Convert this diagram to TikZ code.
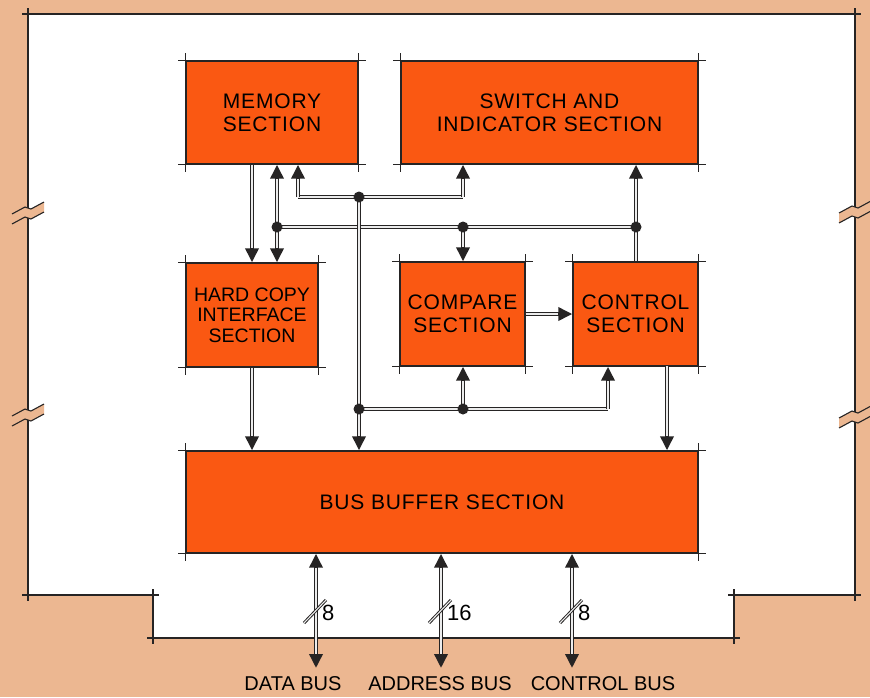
\documentclass[tikz,border=0pt]{standalone}
\usepackage{fontspec}
\setmainfont[LetterSpace=4]{Liberation Sans}
\newfontfamily\tightfont[LetterSpace=0]{Liberation Sans}
\usetikzlibrary{arrows.meta,calc}
\definecolor{tanbg}{RGB}{236,183,145}
\definecolor{boxor}{RGB}{250,88,18}
\definecolor{ink}{RGB}{38,36,36}
\begin{document}
\begin{tikzpicture}[x=1pt,y=-1pt,
  sect/.style={draw=ink, line width=1.4pt, fill=boxor, align=center, inner sep=0pt,
    font=\fontsize{21}{23}\selectfont, text=black},
  bus/.style={draw=ink, line width=3.4pt,
    postaction={draw=gray!15, line width=1.3pt, -}},
  arr/.style={draw=ink, line width=3.4pt, -{Triangle[length=14pt,width=13pt]},
    postaction={draw=gray!15, line width=1.3pt, -, shorten >=14pt}},
  arrtwo/.style={draw=ink, line width=3.4pt, {Triangle[length=14pt,width=13pt]}-{Triangle[length=14pt,width=13pt]},
    postaction={draw=gray!15, line width=1.3pt, -, shorten >=14pt, shorten <=14pt}},
  slash/.style={draw=ink, line width=3pt, postaction={draw=gray!15, line width=1.1pt}},
  jdot/.style={circle, fill=ink, inner sep=0pt, minimum size=11pt},
  framel/.style={draw=ink, line width=1.2pt},
  tick/.style={draw=ink, line width=1.1pt},
  lbl/.style={font=\tightfont\fontsize{20}{22}\selectfont, inner sep=0pt}
]
\useasboundingbox (0,0) rectangle (870,697);
\fill[tanbg] (0,0) rectangle (870,697);

% frame
\fill[white] (28,14) -- (855,14) -- (855,595) -- (734,595) -- (734,638) -- (153,638) -- (153,595) -- (28,595) -- cycle;
\draw[framel] (22,14) -- (861,14);
\draw[framel, line width=1.8pt] (28,8) -- (28,601);
\draw[framel, line width=1.8pt] (855,8) -- (855,601);
\draw[framel] (22,595) -- (159,595);
\draw[framel] (153,589) -- (153,644);
\draw[framel] (147,638) -- (740,638);
\draw[framel] (734,589) -- (734,644);
\draw[framel] (728,595) -- (861,595);

% break marks
\foreach \bx/\by in {28/208, 28/410, 855/207, 855/412}{
  \fill[tanbg] (\bx-16,\by+6) -- (\bx-3,\by-1) -- (\bx+3,\by+1) -- (\bx+16,\by-6)
     -- (\bx+16,\by+4) -- (\bx+3,\by+11) -- (\bx-3,\by+9) -- (\bx-16,\by+16) -- cycle;
  \draw[ink, line width=1.1pt] (\bx-16,\by+6) -- (\bx-3,\by-1) -- (\bx+3,\by+1) -- (\bx+16,\by-6);
  \draw[ink, line width=1.1pt] (\bx-16,\by+16) -- (\bx-3,\by+9) -- (\bx+3,\by+11) -- (\bx+16,\by+4);
}

% sections
\node[sect, minimum width=172pt, minimum height=103pt] (mem) at (272,112.5) {MEMORY\\SECTION};
\node[sect, minimum width=297pt, minimum height=103pt] (sw) at (549.5,112.5) {SWITCH AND\\INDICATOR SECTION};
\node[sect, minimum width=132pt, minimum height=104pt, font=\tightfont\fontsize{19.5}{20.5}\selectfont] (hc) at (252,315) {HARD COPY\\INTERFACE\\SECTION};
\node[sect, minimum width=125pt, minimum height=104pt] (cmp) at (462.5,314) {COMPARE\\SECTION};
\node[sect, minimum width=125pt, minimum height=104pt] (ctl) at (635.5,314) {CONTROL\\SECTION};
\node[sect, minimum width=512pt, minimum height=102pt] (bb) at (442,502) {BUS BUFFER SECTION};

\foreach \n in {mem,sw,hc,cmp,ctl,bb}{
  \draw[tick] ([xshift=-7pt]\n.north west) -- ([xshift=7pt]\n.north east);
  \draw[tick] ([xshift=-7pt]\n.south west) -- ([xshift=7pt]\n.south east);
  \draw[tick] ([yshift=7pt]\n.north west) -- ([yshift=-7pt]\n.south west);
  \draw[tick] ([yshift=7pt]\n.north east) -- ([yshift=-7pt]\n.south east);
}

% junction coordinates
\coordinate (j1) at (277,227);
\coordinate (j2) at (463,227);
\coordinate (j3) at (636,227);
\coordinate (a1) at (298,197);
\coordinate (d1) at (359,197);
\coordinate (a2) at (463,197);
\coordinate (d2) at (359,409);
\coordinate (d3) at (463,409);
\coordinate (a3) at (608,409);
\coordinate (k1) at (667,366);
\coordinate (e1) at (316,668);
\coordinate (e2) at (441,668);
\coordinate (e3) at (572,668);

% connectors
\draw[bus] (j1) -- (j3);
\draw[bus] (a1) -- (a2);
\draw[bus] (d2) -- (a3);
\draw[bus] (j3) -- (j3 |- ctl.north);
\draw[arr] (mem.south -| hc.north) -- (hc.north);
\draw[arr] (j1) -- (j1 |- mem.south);
\draw[arr] (j1) -- (j1 |- hc.north);
\draw[arr] (j2) -- (j2 |- cmp.north);
\draw[arr] (j3) -- (j3 |- sw.south);
\draw[arr] (a1) -- (a1 |- mem.south);
\draw[arr] (a2) -- (a2 |- sw.south);
\draw[arr] (d1) -- (d1 |- bb.north);
\draw[arr] (d3) -- (d3 |- cmp.south);
\draw[arr] (a3) -- (a3 |- ctl.south);
\draw[arr] (cmp.east) -- (ctl.west);
\draw[arr] (hc.south) -- (hc.south |- bb.north);
\draw[arr] (k1) -- (k1 |- bb.north);

\foreach \p in {j1,j2,j3,d1,d2,d3}{ \node[jdot] at (\p) {}; }

% external buses
\draw[arrtwo] (e1 |- bb.south) -- (e1);
\draw[arrtwo] (e2 |- bb.south) -- (e2);
\draw[arrtwo] (e3 |- bb.south) -- (e3);
\foreach \e in {e1,e2,e3}{
  \draw[slash] ([shift={(-12pt,-11pt)}]\e |- 0,612) -- ([shift={(10pt,12pt)}]\e |- 0,612);
}
\node[lbl, anchor=west, font=\tightfont\fontsize{22}{24}\selectfont] (n1) at (322,613) {8};
\node[lbl, anchor=west, font=\tightfont\fontsize{22}{24}\selectfont] (n2) at (447,613) {16};
\node[lbl, anchor=west, font=\tightfont\fontsize{22}{24}\selectfont] (n3) at (578,613) {8};

\node[lbl] (l1) at (293,684) {DATA BUS};
\node[lbl] (l2) at (440,684) {ADDRESS BUS};
\node[lbl] (l3) at (603,684) {CONTROL BUS};
\end{tikzpicture}
\end{document}
